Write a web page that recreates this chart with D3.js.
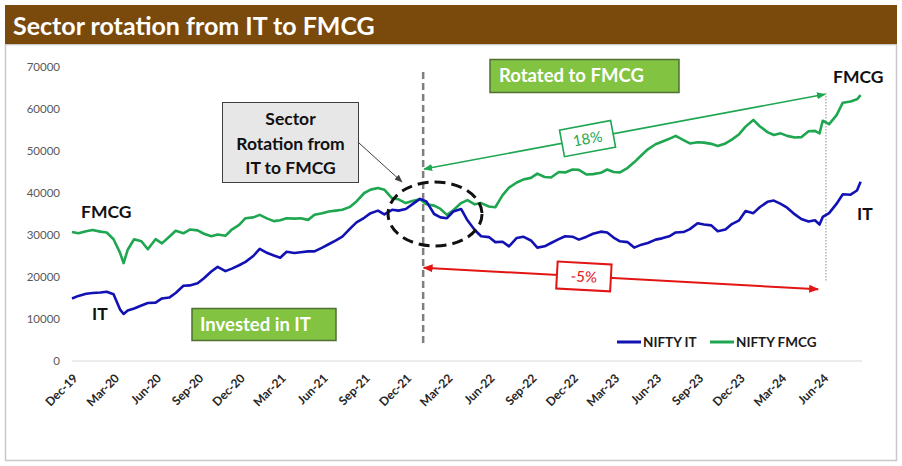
<!DOCTYPE html>
<html>
<head>
<meta charset="utf-8">
<script src="https://cdn.jsdelivr.net/npm/d3@7"></script>
<style>
  html, body { margin: 0; padding: 0; background: #ffffff; }
  svg { display: block; font-family: Lato, "Open Sans", sans-serif; }
</style>
</head>
<body>
<svg id="chart" width="902" height="466"></svg>
<script>
// ---------- DATA ----------
const dates = [
  "2019-12-01","2019-12-15",
  "2020-01-01","2020-01-15","2020-02-01","2020-02-15","2020-03-01","2020-03-15","2020-03-23","2020-04-01","2020-04-15","2020-05-01","2020-05-15","2020-06-01","2020-06-15","2020-07-01","2020-07-15","2020-08-01","2020-08-15","2020-09-01","2020-09-15","2020-10-01","2020-10-15","2020-11-01","2020-11-15","2020-12-01","2020-12-15",
  "2021-01-01","2021-01-15","2021-02-01","2021-02-15","2021-03-01","2021-03-15","2021-04-01","2021-04-15","2021-05-01","2021-05-15","2021-06-01","2021-06-15","2021-07-01","2021-07-15","2021-08-01","2021-08-15","2021-09-01","2021-09-15","2021-10-01","2021-10-15","2021-11-01","2021-11-15","2021-12-01","2021-12-15",
  "2022-01-01","2022-01-15","2022-02-01","2022-02-15","2022-03-01","2022-03-15","2022-04-01","2022-04-15","2022-05-01","2022-05-15","2022-06-01","2022-06-15","2022-07-01","2022-07-15","2022-08-01","2022-08-15","2022-09-01","2022-09-15","2022-10-01","2022-10-15","2022-11-01","2022-11-15","2022-12-01","2022-12-15",
  "2023-01-01","2023-01-15","2023-02-01","2023-02-15","2023-03-01","2023-03-15","2023-04-01","2023-04-15","2023-05-01","2023-05-15","2023-06-01","2023-06-15","2023-07-01","2023-07-15","2023-08-01","2023-08-15","2023-09-01","2023-09-15","2023-10-01","2023-10-15","2023-11-01","2023-11-15","2023-12-01","2023-12-15",
  "2024-01-01","2024-01-15","2024-02-01","2024-02-15","2024-03-01","2024-03-15","2024-04-01","2024-04-15","2024-05-01","2024-05-15","2024-05-25","2024-06-01","2024-06-15","2024-07-01","2024-07-15","2024-08-01","2024-08-15","2024-08-23"
];

const niftyIT = [
  14900, 15500,
  16000, 16200, 16300, 16500, 15900, 12300, 11200, 12000, 12500, 13200, 13800, 13900, 14900, 15100, 16200, 17900, 18000, 18500, 19700, 21300, 22400, 21400, 22000, 22800, 23600,
  25000, 26700, 25700, 25100, 24600, 26000, 25700, 25900, 26100, 26100, 27000, 27800, 28700, 29600, 31500, 33000, 34100, 35200, 35800, 34900, 36000, 35800, 36200, 37300,
  38600, 38000, 35000, 34200, 34000, 35600, 36200, 33500, 31200, 29700, 29500, 28300, 28400, 27300, 29300, 29600, 28700, 27000, 27300, 28100, 29000, 29700, 29600, 28900,
  29600, 30300, 30800, 30600, 29400, 28500, 28300, 27000, 27700, 28100, 28900, 29200, 29700, 30600, 30700, 31400, 32800, 32500, 32300, 30900, 31300, 32600, 33500, 35700,
  35200, 36600, 37900, 38200, 37400, 36500, 34900, 33800, 33200, 33500, 32500, 34300, 35200, 37400, 39700, 39600, 40600, 42700
];

const niftyFMCG = [
  30700, 30400,
  30900, 31200, 30800, 30600, 29000, 25800, 23300, 26500, 29000, 28500, 26600, 29000, 28000, 29600, 31000, 30400, 31300, 31100, 30300, 29700, 30100, 29800, 31300, 32400, 34000,
  34200, 34800, 33900, 33300, 33500, 34000, 33900, 34000, 33600, 34800, 35200, 35600, 35800, 36000, 36700, 38000, 40000, 40800, 41200, 40800, 38700, 38500, 37600, 38100,
  38500, 37300, 37000, 36200, 34800, 35900, 37600, 38300, 37300, 37600, 36800, 36600, 39500, 41300, 42500, 43200, 43600, 44600, 43800, 43700, 45000, 44900, 45600, 45500,
  44400, 44500, 44800, 45600, 45000, 44900, 46000, 47300, 49000, 50400, 51600, 52200, 52900, 53600, 52600, 51800, 52100, 52000, 51700, 51200, 51800, 52700, 54000, 55800,
  57400, 55900, 54500, 53800, 54200, 53600, 53200, 53300, 54700, 54800, 54200, 57200, 56400, 58500, 61500, 61800, 62300, 63300
];

const tickDates = [
  "2019-12-01","2020-03-01","2020-06-01","2020-09-01","2020-12-01","2021-03-01","2021-06-01","2021-09-01","2021-12-01",
  "2022-03-01","2022-06-01","2022-09-01","2022-12-01","2023-03-01","2023-06-01","2023-09-01","2023-12-01","2024-03-01","2024-06-01"
];
const yTicks = [0, 10000, 20000, 30000, 40000, 50000, 60000, 70000];

const seriesNames = ["NIFTY IT", "NIFTY FMCG"];
const titleText = "Sector rotation from IT to FMCG";

// annotation anchors (data space)
const rotationDate = "2022-01-08";
const endDate = "2024-06-08";
const fmcgArrow = [["2022-01-10", 45700], ["2024-06-06", 63500]];
const itArrow = [["2022-01-09", 22200], ["2024-05-22", 17100]];
const ellipseCenter = ["2022-02-03", 35000];

// ---------- SETUP ----------
const parse = d3.timeParse("%Y-%m-%d");
const svg = d3.select("#chart");
const W = 902, H = 466;

const x = d3.scaleTime()
  .domain([parse("2019-12-01"), parse("2024-08-26")])
  .range([72, 862]);
const y = d3.scaleLinear().domain([0, 70000]).range([361, 67]);

const COL_IT = "#1212b4";
const COL_FMCG = "#1fa650";

// defs: arrow markers
const defs = svg.append("defs");
function marker(id, color, size) {
  defs.append("marker")
    .attr("id", id).attr("viewBox", "0 0 10 10")
    .attr("refX", 9).attr("refY", 5)
    .attr("markerWidth", size).attr("markerHeight", size)
    .attr("markerUnits", "userSpaceOnUse")
    .attr("orient", "auto-start-reverse")
    .append("path").attr("d", "M0,1 L10,5 L0,9 Z").attr("fill", color);
}
marker("arrG", COL_FMCG, 9);
marker("arrR", "#e31414", 10);
marker("arrK", "#404040", 8);

// background + frame
svg.append("rect").attr("x", 0).attr("y", 0).attr("width", W).attr("height", H).attr("fill", "#fff");
svg.append("rect").attr("x", 5.5).attr("y", 44.5).attr("width", 891).attr("height", 416)
  .attr("fill", "#fff").attr("stroke", "#c8c8c8").attr("stroke-width", 1.5);
svg.append("rect").attr("x", 5).attr("y", 5).attr("width", 892).attr("height", 39).attr("fill", "#7a4a0c");
svg.append("text").attr("x", 13).attr("y", 34.5).attr("fill", "#fff")
  .attr("font-size", 25).attr("font-weight", "bold").text(titleText);

// y axis
const yAxis = svg.append("g").attr("transform", "translate(72,0)")
  .call(d3.axisLeft(y).tickValues(yTicks).tickSize(0).tickPadding(12).tickFormat(d3.format("d")));
yAxis.select(".domain").remove();
yAxis.selectAll("text").attr("font-size", 11.5).attr("fill", "#595959").attr("font-family", "Lato, sans-serif");

// x axis baseline
svg.append("line").attr("x1", 72).attr("x2", 862).attr("y1", y(0)).attr("y2", y(0))
  .attr("stroke", "#d9d9d9").attr("stroke-width", 1);

const xAxis = svg.append("g").attr("transform", `translate(0,${y(0)})`)
  .call(d3.axisBottom(x).tickValues(tickDates.map(parse)).tickSize(0).tickFormat(d3.timeFormat("%b-%y")));
xAxis.select(".domain").remove();
xAxis.selectAll("text")
  .attr("font-size", 12).attr("font-weight", "bold").attr("fill", "#262626").attr("font-family", "Lato, sans-serif")
  .attr("text-anchor", "end").attr("dy", "0.35em").attr("y", 0)
  .attr("transform", "translate(3,15) rotate(-45)");

// lines
const rows = dates.map((d, i) => ({ date: parse(d), it: niftyIT[i], fmcg: niftyFMCG[i] }));
const lineIT = d3.line().x(d => x(d.date)).y(d => y(d.it));
const lineFM = d3.line().x(d => x(d.date)).y(d => y(d.fmcg));

// vertical dashed rotation line
svg.append("line").attr("x1", x(parse(rotationDate))).attr("x2", x(parse(rotationDate)))
  .attr("y1", 72).attr("y2", 345)
  .attr("stroke", "#7f7f7f").attr("stroke-width", 2.5).attr("stroke-dasharray", "7,4");

// dotted end line
svg.append("line").attr("x1", x(parse(endDate))).attr("x2", x(parse(endDate)))
  .attr("y1", 93).attr("y2", 281)
  .attr("stroke", "#8c8c8c").attr("stroke-width", 1).attr("stroke-dasharray", "1.5,1.5");

svg.append("path").datum(rows).attr("d", lineFM).attr("fill", "none")
  .attr("stroke", COL_FMCG).attr("stroke-width", 2.6).attr("stroke-linejoin", "round");
svg.append("path").datum(rows).attr("d", lineIT).attr("fill", "none")
  .attr("stroke", COL_IT).attr("stroke-width", 2.6).attr("stroke-linejoin", "round");

// dashed ellipse
svg.append("ellipse").attr("cx", x(parse(ellipseCenter[0]))).attr("cy", y(ellipseCenter[1]))
  .attr("rx", 47).attr("ry", 32).attr("fill", "none")
  .attr("stroke", "#111").attr("stroke-width", 3).attr("stroke-dasharray", "11,6");

// arrows with percentage boxes
function arrowWithBox(pts, color, marker, sw, label, boxW, boxH) {
  const x1 = x(parse(pts[0][0])), y1 = y(pts[0][1]);
  const x2 = x(parse(pts[1][0])), y2 = y(pts[1][1]);
  svg.append("line").attr("x1", x1).attr("y1", y1).attr("x2", x2).attr("y2", y2)
    .attr("stroke", color).attr("stroke-width", sw)
    .attr("marker-start", `url(#${marker})`).attr("marker-end", `url(#${marker})`);
  const cx = (x1 + x2) / 2 - 37, cy = y1 + (y2 - y1) * ((cx - x1) / (x2 - x1));
  const ang = Math.atan2(y2 - y1, x2 - x1) * 180 / Math.PI;
  const g = svg.append("g").attr("transform", `translate(${cx},${cy}) rotate(${ang})`);
  g.append("rect").attr("x", -boxW / 2).attr("y", -boxH / 2).attr("width", boxW).attr("height", boxH)
    .attr("fill", "#fff").attr("stroke", color).attr("stroke-width", sw);
  g.append("text").attr("text-anchor", "middle").attr("dy", "0.36em")
    .attr("font-size", 15).attr("fill", color).text(label);
}
arrowWithBox(fmcgArrow, COL_FMCG, "arrG", 1.6, "18%", 52, 27);
arrowWithBox(itArrow, "#e31414", "arrR", 2, "-5%", 54, 27);

// callout box
const cb = svg.append("g");
cb.append("rect").attr("x", 222.5).attr("y", 102.5).attr("width", 136).attr("height", 80)
  .attr("fill", "#e7e7e7").attr("stroke", "#3f3f3f").attr("stroke-width", 1);
["Sector", "Rotation from", "IT to FMCG"].forEach((t, i) => {
  cb.append("text").attr("x", 290.5).attr("y", 125 + i * 24.5).attr("text-anchor", "middle")
    .attr("font-size", 17.5).attr("font-weight", "bold").attr("fill", "#111").text(t);
});
svg.append("line").attr("x1", 359).attr("y1", 143).attr("x2", 402).attr("y2", 182)
  .attr("stroke", "#404040").attr("stroke-width", 1).attr("marker-end", "url(#arrK)");

// green label boxes
function greenBox(x0, y0, w, h, label, tx, ty) {
  svg.append("rect").attr("x", x0).attr("y", y0).attr("width", w).attr("height", h)
    .attr("fill", "#82c341").attr("stroke", "#4f6f33").attr("stroke-width", 1.5);
  svg.append("text").attr("x", tx).attr("y", ty).attr("fill", "#fff")
    .attr("font-size", 18.5).attr("font-weight", "bold").text(label);
}
greenBox(490, 59.5, 189, 33, "Rotated to FMCG", 499, 82);
greenBox(192, 308.5, 144, 32, "Invested in IT", 200, 331);

// series labels
const lbl = (t, lx, ly) => svg.append("text").attr("x", lx).attr("y", ly)
  .attr("font-size", 17.5).attr("font-weight", "bold").attr("fill", "#111").text(t);
lbl("FMCG", 81, 218);
lbl("IT", 92, 320);
lbl("FMCG", 833, 83);
lbl("IT", 857, 220);

// legend
const leg = [
  { name: seriesNames[0], color: COL_IT, x0: 617 },
  { name: seriesNames[1], color: COL_FMCG, x0: 710 }
];
leg.forEach(l => {
  svg.append("line").attr("x1", l.x0).attr("x2", l.x0 + 24).attr("y1", 342).attr("y2", 342)
    .attr("stroke", l.color).attr("stroke-width", 3);
  svg.append("text").attr("x", l.x0 + 26).attr("y", 347).attr("font-size", 13.5)
    .attr("font-weight", "bold").attr("fill", "#1a1a1a").text(l.name);
});
</script>
</body>
</html>
